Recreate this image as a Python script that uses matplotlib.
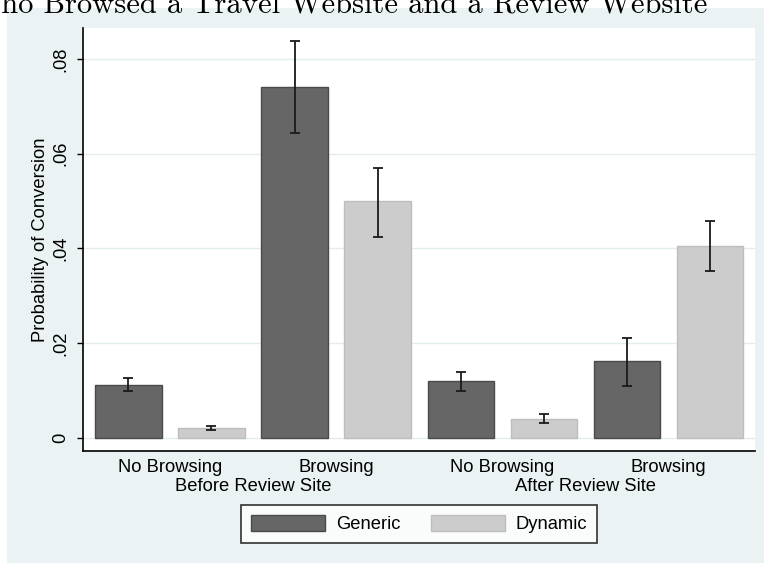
# encoding: utf-8

import numpy as np
from matplotlib import pyplot as plt
from matplotlib.patches import Rectangle

# 数据
periods = ['Before Review Site', 'After Review Site']
browse_labels = ['No Browsing', 'Browsing', 'No Browsing', 'Browsing']
series = ['Generic', 'Dynamic']
generic = [0.0112, 0.0741, 0.0119, 0.0162]
generic_lo = [0.0098, 0.0643, 0.0099, 0.0110]
generic_hi = [0.0127, 0.0838, 0.0139, 0.0211]
dynamic = [0.0021, 0.0500, 0.0039, 0.0406]
dynamic_lo = [0.0015, 0.0425, 0.0030, 0.0353]
dynamic_hi = [0.0025, 0.0571, 0.0050, 0.0457]
yticks = [0, 0.02, 0.04, 0.06, 0.08]
ytick_labels = ['0', '.02', '.04', '.06', '.08']
title = 'Who Browsed a Travel Website and a Review Website'

plt.rcParams['font.family'] = ['Liberation Sans', 'DejaVu Sans']
FS = 13.2
BG = '#EAF2F3'

fig = plt.figure(figsize=(7.64, 5.63), dpi=100, facecolor='white')
# stata 风格背景
fig.patches.append(Rectangle((7 / 764, 0), 1, 1 - 7.5 / 563, transform=fig.transFigure,
                             facecolor=BG, edgecolor='none', zorder=-10))

ax = fig.add_axes([83 / 764, 112 / 563, 672 / 764, 423 / 563])
ax.set_facecolor('white')

x = np.arange(len(generic)) * 2  # 每组两根柱子
g = np.array(generic)
d = np.array(dynamic)
ax.bar(x, g, width=0.8, color='#666666', edgecolor='#4a4a4a', linewidth=1, label=series[0], zorder=2)
ax.bar(x + 1, d, width=0.8, color='#cccccc', edgecolor='#bdbdbd', linewidth=1, label=series[1], zorder=2)
ax.errorbar(x, g, yerr=[g - np.array(generic_lo), np.array(generic_hi) - g], fmt='none',
            ecolor='#1a1a1a', elinewidth=1.3, capsize=3.6, capthick=1.3, zorder=3)
ax.errorbar(x + 1, d, yerr=[d - np.array(dynamic_lo), np.array(dynamic_hi) - d], fmt='none',
            ecolor='#1a1a1a', elinewidth=1.3, capsize=3.6, capthick=1.3, zorder=3)

ax.set_xlim(-0.545, 7.54)
ax.set_ylim(-0.00284, 0.0866)

ax.set_yticks(yticks)
ax.set_yticklabels(ytick_labels, rotation=90, va='center', fontsize=FS)
ax.tick_params(axis='y', length=4.3, width=1, pad=5.8, color='black')
ax.set_xticks(x + 0.5)
ax.set_xticklabels(browse_labels, fontsize=FS)
ax.tick_params(axis='x', length=0, pad=5.5)
ax.set_ylabel('Probability of Conversion', fontsize=FS, labelpad=2)

ax.grid(axis='y', color='#e3eded', linewidth=1)
ax.set_axisbelow(True)
for s in ['top', 'right']:
    ax.spines[s].set_visible(False)
for s in ['left', 'bottom']:
    ax.spines[s].set_linewidth(1.2)
    ax.spines[s].set_color('black')

# 第二行标签
for i, p in enumerate(periods):
    ax.text(1.5 + 4 * i, -0.0946, p, transform=ax.get_xaxis_transform(),
            ha='center', va='baseline', fontsize=FS)

leg = fig.legend(loc='center', bbox_to_anchor=(419.2 / 764, 1 - 523.9 / 563), ncol=2,
                 fontsize=FS, frameon=True, fancybox=False, handlelength=4.0, handleheight=1.0,
                 handletextpad=0.6, columnspacing=1.7, borderpad=0.55)
leg.get_frame().set_edgecolor('black')
leg.get_frame().set_linewidth(1.2)

# 标题 (原图被裁掉了上半部分)
fig.text(707 / 764, 549 / 563, title, ha='right', va='baseline', fontsize=22, fontfamily='cmr10')

plt.savefig('out.png', dpi=100, facecolor=fig.get_facecolor())
